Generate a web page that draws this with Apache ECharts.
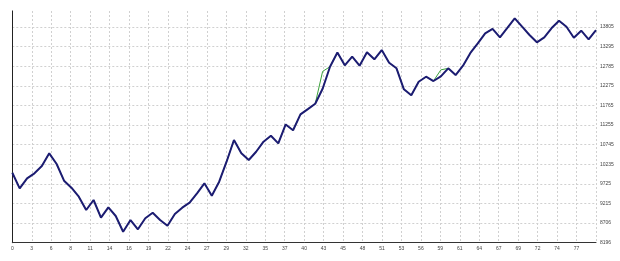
<!DOCTYPE html>
<html><head><meta charset="utf-8">
<script src="https://cdn.jsdelivr.net/npm/echarts@6/dist/echarts.min.js"></script>
<style>html,body{margin:0;padding:0;background:#fff}#c{width:620px;height:261px}</style>
</head><body><div id="c"></div>
<script>
const xLabels = ['0','3','6','8','11','14','16','19','22','24','27','29','32','35','37','40','43','45','48','51','53','56','59','61','64','67','69','72','74','77'];
const yLabels = ['8196','8706','9215','9725','10235','10745','11255','11765','12275','12785','13295','13805'];
const balance = [10016,9610,9870,10000,10190,10520,10242,9808,9626,9392,
  9046,9306,8846,9116,8890,8482,8786,8544,8830,8976,
  8786,8638,8942,9106,9236,9480,9740,9418,9782,10302,
  10866,10520,10346,10560,10822,10975,10779,11270,11120,11534,
  11670,11810,12200,12772,13140,12808,13032,12798,13146,12964,
  13206,12876,12730,12184,12030,12382,12512,12400,12520,12730,
  12556,12800,13130,13380,13640,13756,13536,13780,14030,13812,
  13596,13406,13536,13778,13968,13812,13526,13708,13484,13726];
const equity = balance.slice();
equity[42] = 12650;
equity[58] = 12690;

const yMin = 8196, yStep = 509.9, yTop = 11.815;
const chart = echarts.init(document.getElementById('c'));
const lblFont = {fontSize:5, color:'#444', fontFamily:'Liberation Sans'};
chart.setOption({
  animation:false,
  grid:{left:12.3, right:24, top:11, bottom:18.3},
  xAxis:[
    {type:'value', min:0, max:balance.length-1, show:false},
    {type:'value', min:0, max:xLabels.length, interval:1, position:'bottom',
     axisLine:{show:true, lineStyle:{color:'#333', width:1}},
     axisTick:{show:false},
     axisLabel:Object.assign({margin:3, showMaxLabel:false,
       formatter:v=>{const i=Math.round(v);return Math.abs(v-i)<1e-6&&i<xLabels.length?xLabels[i]:'';}}, lblFont),
     splitLine:{show:true, lineStyle:{color:'#d0d0d0', type:[2,2], width:1}}}
  ],
  yAxis:[
    {type:'value', min:yMin, max:yMin+yTop*yStep, position:'left',
     axisLine:{show:true, lineStyle:{color:'#aaaaaa', width:1}},
     axisTick:{show:false}, axisLabel:{show:false}, splitLine:{show:false}},
    {type:'value', min:0, max:yTop, interval:1, position:'right',
     axisLine:{show:true, lineStyle:{color:'#222', width:1}},
     axisTick:{show:false, customValues:yLabels.map((_,i)=>i)},
     axisLabel:Object.assign({margin:4, customValues:yLabels.map((_,i)=>i),
       formatter:v=>{const i=Math.round(v);return Math.abs(v-i)<1e-6&&i<yLabels.length?yLabels[i]:'';}}, lblFont),
     splitLine:{show:true, lineStyle:{color:'#d0d0d0', type:[2,2], width:1}}}
  ],
  series:[
    {type:'line', xAxisIndex:0, yAxisIndex:0, data:equity.map((v,i)=>[i,v]), symbol:'none',
     lineStyle:{color:'#3aa03a', width:1}, z:2},
    {type:'line', xAxisIndex:0, yAxisIndex:0, data:balance.map((v,i)=>[i,v]), symbol:'none',
     lineStyle:{color:'#1c1c72', width:2}, z:3}
  ]
});
</script></body></html>
